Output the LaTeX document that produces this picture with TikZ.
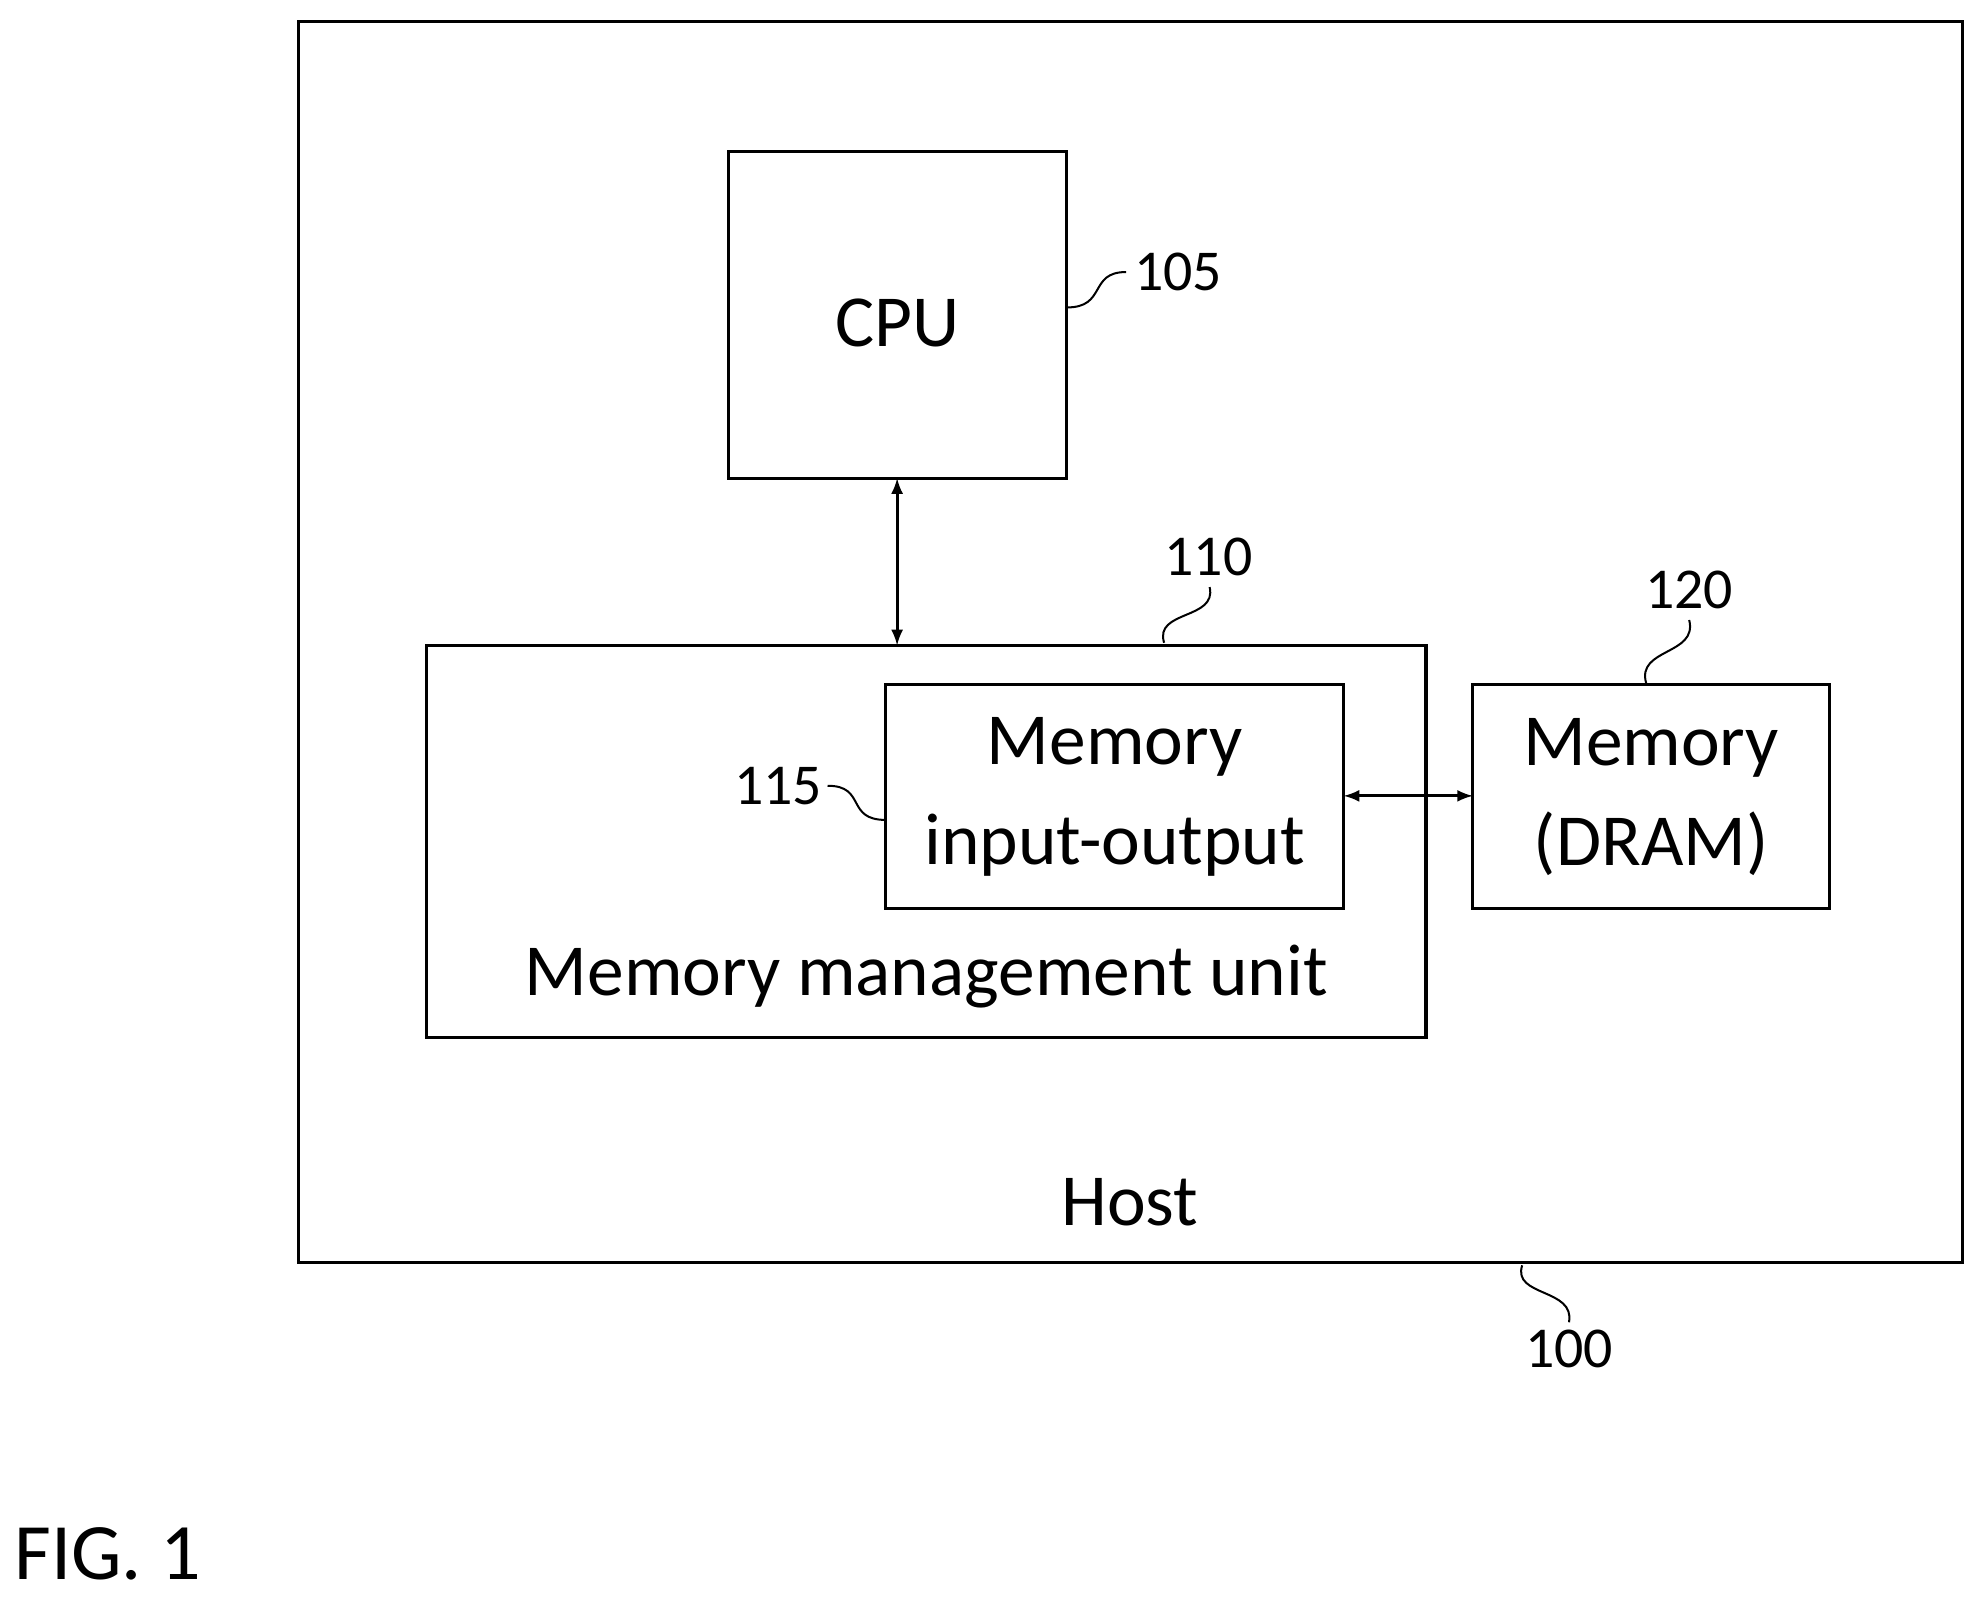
\documentclass[tikz,border=0pt]{standalone}
\usepackage{fontspec}
\setmainfont{Carlito}
\begin{document}
\begin{tikzpicture}[x=0.02cm,y=-0.02cm,
  box/.style={draw,line width=1.4pt},
  big/.style={font=\fontsize{33}{45}\selectfont},
  num/.style={font=\fontsize{26}{30}\selectfont},
  lead/.style={line width=0.9pt},
  conn/.style={line width=1.4pt,<->,>=latex}]
\useasboundingbox (0,0) rectangle (1568,1266);
\draw[box] (236,17) rectangle (1551,998);
\node[big] (host) at (893,950) {Host};
\draw[box] (576,120) rectangle (843,378);
\node[big] (cpu) at (709,255) {CPU};
\draw[box] (337,510) rectangle (1127,820);
\node[big] (mmu) at (732,772) {Memory management unit};
\draw[box] (700,541) rectangle (1062,718);
\node[big,align=center] (mio) at (881,630) {Memory\\input-output};
\draw[box] (1164,541) rectangle (1446,718);
\node[big,align=center] (dram) at (1305,630) {Memory\\(DRAM)};
\coordinate (cpub) at (709,378); \coordinate (mmut) at (709,510);
\draw[conn] (cpub) -- (mmut);
\coordinate (mior) at (1062,629); \coordinate (draml) at (1164,629);
\draw[conn] (mior) -- (draml);
\node[num] (n105) at (931,215) {105};
\coordinate (a105) at (843,243); \coordinate (b105) at (890,215);
\draw[lead] (a105) .. controls (875,243) and (860,215) .. (b105);
\node[num] (n110) at (955,440) {110};
\coordinate (a110) at (920,508); \coordinate (b110) at (956,464);
\draw[lead] (a110) .. controls (912,482) and (962,490) .. (b110);
\node[num] (n120) at (1335,466) {120};
\coordinate (a120) at (1301,540); \coordinate (b120) at (1335,490);
\draw[lead] (a120) .. controls (1293,512) and (1342,518) .. (b120);
\node[num] (n115) at (615,621) {115};
\coordinate (a115) at (700,648); \coordinate (b115) at (654,621);
\draw[lead] (a115) .. controls (668,648) and (685,621) .. (b115);
\node[num] (n100) at (1240,1066) {100};
\coordinate (a100) at (1203,1000); \coordinate (b100) at (1240,1045);
\draw[lead] (a100) .. controls (1195,1025) and (1245,1018) .. (b100);
\node[font=\fontsize{36}{40}\selectfont] (fig) at (85,1228) {FIG. 1};
\end{tikzpicture}
\end{document}
